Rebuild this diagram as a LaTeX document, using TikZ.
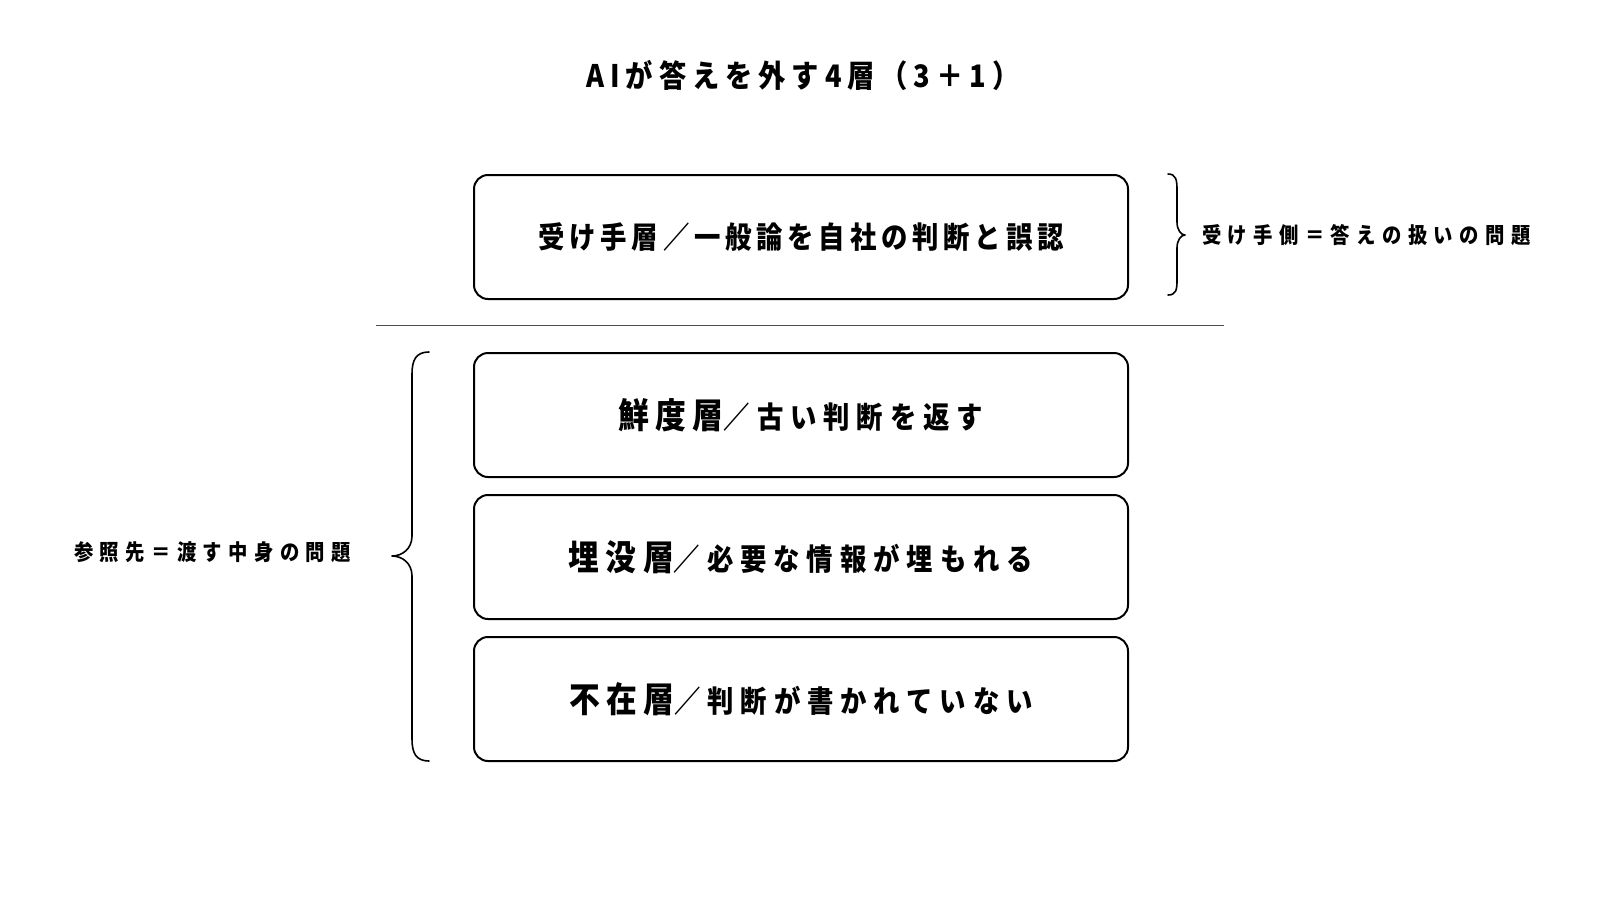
\documentclass[tikz,border=0pt]{standalone}
\usepackage{fontspec}
\setmainfont{Noto Sans CJK JP}[FakeStretch=0.88]
\newcommand{\lsp}[1]{\addfontfeature{LetterSpace=#1}}
\tikzset{
  layerbox/.style={draw=black, line width=2pt, rounded corners=14pt, minimum width=654pt, minimum height=124pt, inner sep=0pt, anchor=north west},
  bracestyle/.style={draw=black, line width=1.6pt, line cap=round, line join=round},
  sidelabel/.style={font=\bfseries\fontsize{22}{26}\selectfont\lsp{29}, inner sep=0pt},
}
\begin{document}
\begin{tikzpicture}[x=1pt,y=-1pt]
\useasboundingbox (0,0) rectangle (1600,900);
\fill[white] (0,0) rectangle (1600,900);

\node[font=\bfseries\fontsize{31}{35}\selectfont\lsp{19}, inner sep=0pt] (title) at (803,76) {AIが答えを外す4層（3＋1）};

\node[layerbox] (b1) at (473,174) {};
\node[font=\bfseries\fontsize{30}{34}\selectfont\lsp{16}, inner sep=0pt] (t1) at (b1.center) {受け手層／一般論を自社の判断と誤認};

\node[layerbox] (b2) at (473,352) {};
\node[inner sep=0pt] (t2) at (b2.center) {\bfseries{\fontsize{35}{38}\selectfont\lsp{18}鮮度層}{\fontsize{30}{34}\selectfont\lsp{23}／古い判断を返す}};

\node[layerbox] (b3) at (473,494) {};
\node[inner sep=0pt] (t3) at (b3.center) {\bfseries{\fontsize{35}{38}\selectfont\lsp{18}埋没層}{\fontsize{30}{34}\selectfont\lsp{23}／必要な情報が埋もれる}};

\node[layerbox] (b4) at (473,636) {};
\node[inner sep=0pt] (t4) at (b4.center) {\bfseries{\fontsize{35}{38}\selectfont\lsp{18}不在層}{\fontsize{30}{34}\selectfont\lsp{23}／判断が書かれていない}};

\coordinate (sepL) at (376,325);
\coordinate (sepR) at (1224,325);
\draw[line width=1pt, draw=black!70] (sepL) -- (sepR);

% right brace
\coordinate (rbT) at (1168,174);
\coordinate (rbB) at (1168,295);
\coordinate (rbTip) at (1185,235);
\draw[bracestyle] (rbT) .. controls (1176,174) and (1177,180) .. (1177,190) -- (1177,222)
  .. controls (1177,230) and (1181,235) .. (rbTip)
  .. controls (1181,235) and (1177,240) .. (1177,248) -- (1177,280)
  .. controls (1177,290) and (1176,295) .. (rbB);
\node[sidelabel, anchor=west] (rl) at (1202,235) {受け手側＝答えの扱いの問題};

% left brace
\coordinate (lbT) at (429,352);
\coordinate (lbB) at (429,761);
\coordinate (lbTip) at (392,556);
\draw[bracestyle] (lbT) .. controls (416,352) and (412,360) .. (412,374) -- (412,536)
  .. controls (412,549) and (402,556) .. (lbTip)
  .. controls (402,556) and (412,563) .. (412,576) -- (412,739)
  .. controls (412,753) and (416,761) .. (lbB);
\node[sidelabel, anchor=west] (ll) at (74,552) {参照先＝渡す中身の問題};
\end{tikzpicture}
\end{document}
